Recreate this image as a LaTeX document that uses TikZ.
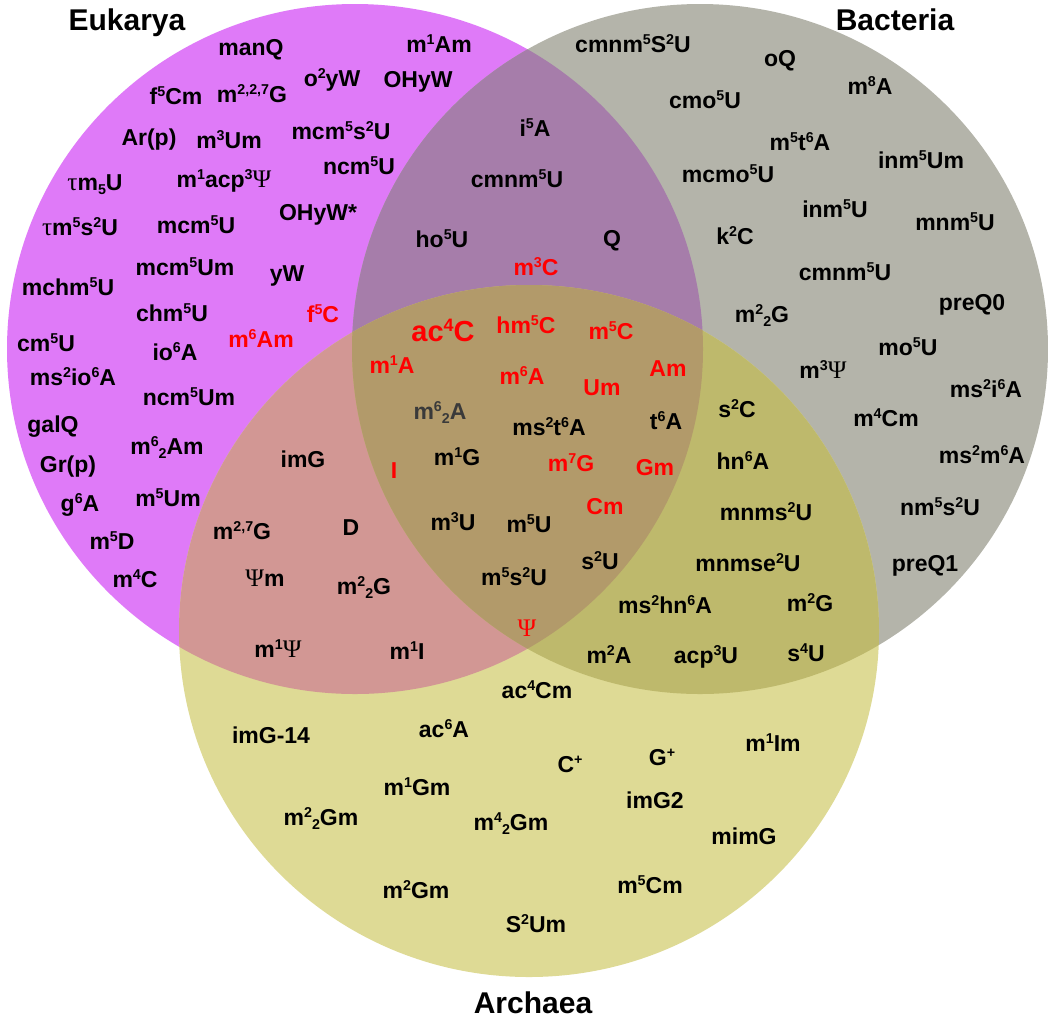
\documentclass[tikz,border=0pt]{standalone}
\usepackage{fontspec}
\setmainfont{Liberation Sans}
\newfontfamily\grk{Liberation Serif}[Scale=1.1]
\newcommand\upx[1]{\raisebox{0.33em}{\scalebox{0.62}{#1}}}
\newcommand\dnx[1]{\raisebox{-0.2em}{\scalebox{0.62}{#1}}}
\newcommand\gPsi{{\grk\mdseries Ψ}}
\newcommand\gtau{{\grk\mdseries τ}}
\newcommand\labfont{\fontsize{23}{26}\selectfont\bfseries}
\definecolor{eukc}{RGB}{223,122,248}
\definecolor{bacc}{RGB}{180,180,170}
\definecolor{arcc}{RGB}{222,218,149}
\definecolor{ebc}{RGB}{166,125,170}
\definecolor{eac}{RGB}{210,151,148}
\definecolor{bac}{RGB}{190,185,108}
\definecolor{allc}{RGB}{178,154,106}
\definecolor{txtred}{RGB}{255,0,0}
\definecolor{dgray}{RGB}{58,58,58}
\begin{document}
\begin{tikzpicture}[x=1pt,y=-1pt,
  lbl/.style={font=\labfont, inner sep=0pt, text height=16.5pt, text depth=0pt, text=black},
  hl/.style={lbl, text=txtred},
  ttl/.style={font=\fontsize{30}{34}\selectfont\bfseries, inner sep=0pt, text height=21.5pt, text depth=0pt},
  eshape/.style={x radius=348pt, y radius=345pt},
  ashape/.style={x radius=350pt, y radius=346pt}]
\useasboundingbox (0,0) rectangle (1048,1021);
\coordinate (E) at (355,349);
\coordinate (B) at (700,349);
\coordinate (A) at (529,631);
% circles
\fill[eukc] (E) ellipse[eshape];
\fill[bacc] (B) ellipse[eshape];
\fill[arcc] (A) ellipse[ashape];
\begin{scope}\clip (E) ellipse[eshape]; \fill[ebc] (B) ellipse[eshape];\end{scope}
\begin{scope}\clip (E) ellipse[eshape]; \fill[eac] (A) ellipse[ashape];\end{scope}
\begin{scope}\clip (B) ellipse[eshape]; \fill[bac] (A) ellipse[ashape];\end{scope}
\begin{scope}\clip (E) ellipse[eshape]; \clip (B) ellipse[eshape]; \fill[allc] (A) ellipse[ashape];\end{scope}
% titles
\node[ttl] (tE) at (127,20) {Eukarya};
\node[ttl] (tB) at (895,20) {Bacteria};
\node[ttl] (tA) at (533,1003) {Archaea};
% Eukarya only
\node[lbl] (e1) at (251,47) {manQ};
\node[lbl] (e2) at (252,94) {m\upx{2,2,7}G};
\node[lbl] (e3) at (176,96) {f\upx{5}Cm};
\node[lbl] (e4) at (332,78) {o\upx{2}yW};
\node[lbl] (e5) at (439,44) {m\upx{1}Am};
\node[lbl] (e6) at (418,79) {OHyW};
\node[lbl] (e7) at (149,137) {Ar(p)};
\node[lbl] (e8) at (229,140) {m\upx{3}Um};
\node[lbl] (e9) at (341,131) {mcm\upx{5}s\upx{2}U};
\node[lbl] (e10) at (359,166) {ncm\upx{5}U};
\node[lbl] (e11) at (224,179) {m\upx{1}acp\upx{3}\gPsi};
\node[lbl] (e12) at (95,182) {\gtau m\dnx{5}U};
\node[lbl] (e13) at (318,212) {OHyW*};
\node[lbl] (e14) at (80,227) {\gtau m\upx{5}s\upx{2}U};
\node[lbl] (e15) at (196,225) {mcm\upx{5}U};
\node[lbl] (e16) at (185,267) {mcm\upx{5}Um};
\node[lbl] (e17) at (287,273) {yW};
\node[lbl] (e18) at (68,287) {mchm\upx{5}U};
\node[lbl] (e19) at (172,313) {chm\upx{5}U};
\node[hl] (e20) at (323,314) {f\upx{5}C};
\node[hl] (e21) at (261,339) {m\upx{6}Am};
\node[lbl] (e22) at (46,343) {cm\upx{5}U};
\node[lbl] (e23) at (175,352) {io\upx{6}A};
\node[lbl] (e24) at (73,377) {ms\upx{2}io\upx{6}A};
\node[lbl] (e25) at (189,397) {ncm\upx{5}Um};
\node[lbl] (e26) at (53,424) {galQ};
\node[lbl] (e27) at (167,446) {m\upx{6}\dnx{2}Am};
\node[lbl] (e28) at (68,464) {Gr(p)};
\node[lbl] (e29) at (80,503) {g\upx{6}A};
\node[lbl] (e30) at (168,498) {m\upx{5}Um};
\node[lbl] (e31) at (112,541) {m\upx{5}D};
\node[lbl] (e32) at (135,579) {m\upx{4}C};
% Eukarya & Archaea
\node[lbl] (ea1) at (303,459) {imG};
\node[lbl] (ea2) at (242,531) {m\upx{2,7}G};
\node[lbl] (ea3) at (351,527) {D};
\node[lbl] (ea4) at (265,578) {\gPsi m};
\node[lbl] (ea5) at (364,586) {m\upx{2}\dnx{2}G};
\node[lbl] (ea6) at (278,649) {m\upx{1}\gPsi};
\node[lbl] (ea7) at (407,651) {m\upx{1}I};
% Eukarya & Bacteria
\node[lbl] (eb1) at (535,128) {i\upx{5}A};
\node[lbl] (eb2) at (517,179) {cmnm\upx{5}U};
\node[lbl] (eb3) at (442,239) {ho\upx{5}U};
\node[lbl] (eb4) at (612,238) {Q};
\node[hl] (eb5) at (536,267) {m\upx{3}C};
% all three
\node[hl, font=\fontsize{29}{32}\selectfont\bfseries, text height=21pt] (c1) at (443,331) {ac\upx{4}C};
\node[hl] (c2) at (526,325) {hm\upx{5}C};
\node[hl] (c3) at (611,331) {m\upx{5}C};
\node[hl] (c4) at (392,365) {m\upx{1}A};
\node[hl] (c5) at (522,376) {m\upx{6}A};
\node[hl] (c6) at (602,387) {Um};
\node[hl] (c7) at (668,368) {Am};
\node[lbl, text=dgray] (c8) at (440,411) {m\upx{6}\dnx{2}A};
\node[lbl] (c9) at (549,427) {ms\upx{2}t\upx{6}A};
\node[lbl] (c10) at (666,421) {t\upx{6}A};
\node[hl] (c11) at (394,470) {I};
\node[lbl] (c12) at (457,457) {m\upx{1}G};
\node[hl] (c13) at (571,463) {m\upx{7}G};
\node[hl] (c14) at (655,467) {Gm};
\node[hl] (c15) at (605,506) {Cm};
\node[lbl] (c16) at (453,522) {m\upx{3}U};
\node[lbl] (c17) at (529,524) {m\upx{5}U};
\node[lbl] (c18) at (600,561) {s\upx{2}U};
\node[lbl] (c19) at (514,577) {m\upx{5}s\upx{2}U};
\node[hl] (c20) at (527,628) {\gPsi};
% Bacteria only
\node[lbl] (b1) at (633,44) {cmnm\upx{5}S\upx{2}U};
\node[lbl] (b2) at (780,58) {oQ};
\node[lbl] (b3) at (705,100) {cmo\upx{5}U};
\node[lbl] (b4) at (870,86) {m\upx{8}A};
\node[lbl] (b5) at (800,142) {m\upx{5}t\upx{6}A};
\node[lbl] (b6) at (728,174) {mcmo\upx{5}U};
\node[lbl] (b7) at (921,160) {inm\upx{5}Um};
\node[lbl] (b8) at (835,209) {inm\upx{5}U};
\node[lbl] (b9) at (955,222) {mnm\upx{5}U};
\node[lbl] (b10) at (735,236) {k\upx{2}C};
\node[lbl] (b11) at (845,272) {cmnm\upx{5}U};
\node[lbl] (b12) at (972,302) {preQ0};
\node[lbl] (b13) at (762,314) {m\upx{2}\dnx{2}G};
\node[lbl] (b14) at (908,347) {mo\upx{5}U};
\node[lbl] (b15) at (823,370) {m\upx{3}\gPsi};
\node[lbl] (b16) at (986,389) {ms\upx{2}i\upx{6}A};
\node[lbl] (b17) at (886,418) {m\upx{4}Cm};
\node[lbl] (b18) at (982,455) {ms\upx{2}m\upx{6}A};
\node[lbl] (b19) at (940,507) {nm\upx{5}s\upx{2}U};
\node[lbl] (b20) at (925,563) {preQ1};
% Bacteria & Archaea
\node[lbl] (ba1) at (737,409) {s\upx{2}C};
\node[lbl] (ba2) at (743,461) {hn\upx{6}A};
\node[lbl] (ba3) at (766,512) {mnms\upx{2}U};
\node[lbl] (ba4) at (748,563) {mnmse\upx{2}U};
\node[lbl] (ba5) at (665,605) {ms\upx{2}hn\upx{6}A};
\node[lbl] (ba6) at (810,603) {m\upx{2}G};
\node[lbl] (ba7) at (609,655) {m\upx{2}A};
\node[lbl] (ba8) at (706,655) {acp\upx{3}U};
\node[lbl] (ba9) at (806,653) {s\upx{4}U};
% Archaea only
\node[lbl] (a1) at (537,690) {ac\upx{4}Cm};
\node[lbl] (a2) at (271,735) {imG-14};
\node[lbl] (a3) at (444,729) {ac\upx{6}A};
\node[lbl] (a4) at (570,764) {C\upx{+}};
\node[lbl] (a5) at (662,757) {G\upx{+}};
\node[lbl] (a6) at (773,743) {m\upx{1}Im};
\node[lbl] (a7) at (417,787) {m\upx{1}Gm};
\node[lbl] (a8) at (655,800) {imG2};
\node[lbl] (a9) at (321,817) {m\upx{2}\dnx{2}Gm};
\node[lbl] (a10) at (511,822) {m\upx{4}\dnx{2}Gm};
\node[lbl] (a11) at (744,836) {mimG};
\node[lbl] (a12) at (416,890) {m\upx{2}Gm};
\node[lbl] (a13) at (650,885) {m\upx{5}Cm};
\node[lbl] (a14) at (536,924) {S\upx{2}Um};
\end{tikzpicture}
\end{document}
